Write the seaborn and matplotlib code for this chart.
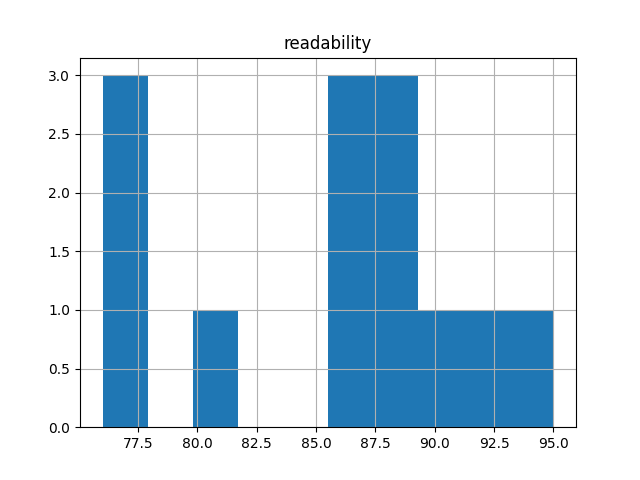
import matplotlib
matplotlib.use("Agg")
import matplotlib.pyplot as plt
import seaborn as sns
import pandas as pd

# readability scores (13 documents)
readability = [76.0, 77.0, 77.5, 80.5, 86.0, 86.5, 87.0, 88.0, 88.5, 89.0, 90.0, 92.0, 95.0]
df = pd.DataFrame({"readability": readability})

fig, ax = plt.subplots(figsize=(6.4, 4.8), dpi=100)
sns.histplot(data=df, x="readability", bins=10, color="#1f77b4",
             alpha=1, linewidth=0, ax=ax)
ax.set_title("readability")
ax.set_xlabel("")
ax.set_ylabel("")
ax.grid(True)

fig.savefig("out.png")
